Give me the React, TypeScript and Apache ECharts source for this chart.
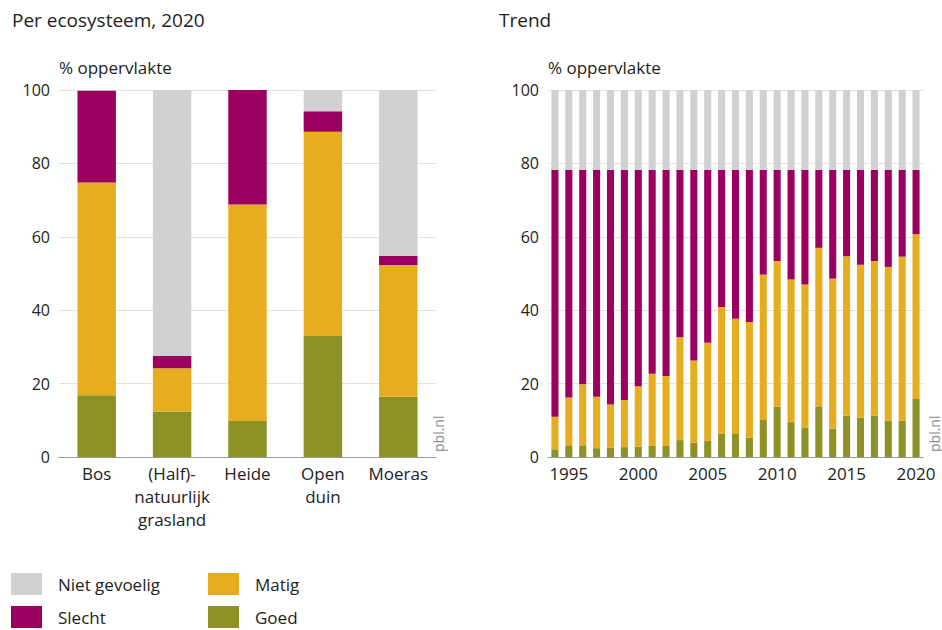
import React, { useEffect, useRef } from "react";
import * as echarts from "echarts";

const ecoCategories = ["Bos", "(Half)-\nnatuurlijk\ngrasland", "Heide", "Open\nduin", "Moeras"];
const ecoGoed = [16.8, 12.4, 9.8, 33.0, 16.4];
const ecoMatig = [58.0, 11.8, 59.0, 55.6, 35.9];
const ecoSlecht = [25.0, 3.3, 31.2, 5.6, 2.5];
const ecoNiet = [0, 72.5, 0, 5.8, 45.2];

const trendYears = [
  "1994", "1995", "1996", "1997", "1998", "1999", "2000", "2001", "2002", "2003",
  "2004", "2005", "2006", "2007", "2008", "2009", "2010", "2011", "2012", "2013",
  "2014", "2015", "2016", "2017", "2018", "2019", "2020",
];
const trendGoed = [2.1, 3.0, 3.2, 2.4, 2.5, 2.7, 2.8, 3.0, 3.0, 4.6, 3.9, 4.4, 6.3, 6.3, 5.3, 10.1, 13.7, 9.5, 8.0, 13.8, 7.7, 11.3, 10.7, 11.3, 9.9, 9.9, 15.8];
const trendMatig = [8.9, 13.2, 16.6, 14.0, 11.8, 12.8, 16.5, 19.7, 19.1, 28.0, 22.4, 26.7, 34.6, 31.4, 31.5, 39.6, 39.7, 38.9, 39.0, 43.2, 40.9, 43.4, 41.7, 42.1, 41.9, 44.7, 44.9];
const trendSlecht = [67.2, 62.0, 58.4, 61.8, 63.9, 62.7, 58.9, 55.5, 56.1, 45.6, 51.9, 47.1, 37.3, 40.5, 41.4, 28.5, 24.8, 29.8, 31.2, 21.2, 29.6, 23.5, 25.8, 24.8, 26.4, 23.6, 17.5];
const trendNiet = [21.8, 21.8, 21.8, 21.8, 21.8, 21.8, 21.8, 21.8, 21.8, 21.8, 21.8, 21.8, 21.8, 21.8, 21.8, 21.8, 21.8, 21.8, 21.8, 21.8, 21.8, 21.8, 21.8, 21.8, 21.8, 21.8, 21.8];
const trendLabelYears = ["1995", "2000", "2005", "2010", "2015", "2020"];

const COLORS = {
  niet: "#d0d1d0",
  slecht: "#9b0060",
  matig: "#e6ad20",
  goed: "#8e9126",
};

const FONT = "'Open Sans', 'Noto Sans', sans-serif";
const TEXT = "#222222";

export default function App() {
  const ref = useRef<HTMLDivElement>(null);
  useEffect(() => {
    document.body.style.margin = "0";
    if (!ref.current) return;
    const chart = echarts.init(ref.current, undefined, { renderer: "svg" });

    const yAxisCommon = {
      type: "value",
      min: 0,
      max: 100,
      interval: 20,
      name: "% oppervlakte",
      nameLocation: "end",
      nameGap: 14,
      nameTextStyle: { align: "left", color: TEXT, fontSize: 17, fontFamily: FONT },
      axisLine: { show: false },
      axisTick: { show: false },
      axisLabel: { color: TEXT, fontSize: 16, fontFamily: FONT, margin: 9 },
      splitLine: { lineStyle: { color: "#e2e2e2", width: 1 } },
    };

    const xAxisCommon = {
      type: "category",
      axisLine: { lineStyle: { color: "#9a9a9a", width: 1 } },
      axisTick: { show: false },
    };

    const mk = (name: string, color: string, data: number[], idx: number) => ({
      name,
      type: "bar",
      stack: idx === 0 ? "eco" : "trend",
      xAxisIndex: idx,
      yAxisIndex: idx,
      data,
      barWidth: "51%",
      itemStyle: { color },
      emphasis: { disabled: true },
    });

    const legendCommon = {
      orient: "vertical",
      top: 573,
      padding: 0,
      itemWidth: 31,
      itemHeight: 22,
      itemGap: 11,
      icon: "rect",
      selectedMode: false,
      textStyle: { color: TEXT, fontSize: 17, fontFamily: FONT, padding: [0, 0, 0, 11] },
    };

    chart.setOption({
      animation: false,
      textStyle: { fontFamily: FONT },
      title: [
        { text: "Per ecosysteem, 2020", left: 12, top: 10, padding: 0, textStyle: { color: TEXT, fontSize: 19, fontWeight: "normal", fontFamily: FONT } },
        { text: "Trend", left: 499, top: 10, padding: 0, textStyle: { color: TEXT, fontSize: 19, fontWeight: "normal", fontFamily: FONT } },
      ],
      legend: [
        { ...legendCommon, left: 11, data: ["Niet gevoelig", "Slecht"] },
        { ...legendCommon, left: 208, data: ["Matig", "Goed"] },
      ],
      grid: [
        { left: 59, right: 506, top: 90, bottom: 173 },
        { left: 548, right: 19, top: 90, bottom: 173 },
      ],
      xAxis: [
        {
          ...xAxisCommon,
          gridIndex: 0,
          data: ecoCategories,
          axisLabel: { color: TEXT, fontSize: 17, fontFamily: FONT, margin: 5, lineHeight: 23, interval: 0 },
        },
        {
          ...xAxisCommon,
          gridIndex: 1,
          data: trendYears,
          axisLabel: {
            color: TEXT,
            fontSize: 17,
            fontFamily: FONT,
            margin: 8,
            interval: (_i: number, v: string) => trendLabelYears.indexOf(v) >= 0,
          },
        },
      ],
      yAxis: [
        { ...yAxisCommon, gridIndex: 0 },
        { ...yAxisCommon, gridIndex: 1 },
      ],
      series: [
        mk("Goed", COLORS.goed, ecoGoed, 0),
        mk("Matig", COLORS.matig, ecoMatig, 0),
        mk("Slecht", COLORS.slecht, ecoSlecht, 0),
        mk("Niet gevoelig", COLORS.niet, ecoNiet, 0),
        mk("Goed", COLORS.goed, trendGoed, 1),
        mk("Matig", COLORS.matig, trendMatig, 1),
        mk("Slecht", COLORS.slecht, trendSlecht, 1),
        mk("Niet gevoelig", COLORS.niet, trendNiet, 1),
      ],
      graphic: [
        {
          type: "text",
          x: 431,
          y: 452,
          rotation: Math.PI / 2,
          style: { text: "pbl.nl", fill: "#8a8a8a", fontSize: 14, fontFamily: FONT, textAlign: "left", textVerticalAlign: "top" },
        },
        {
          type: "text",
          x: 927,
          y: 452,
          rotation: Math.PI / 2,
          style: { text: "pbl.nl", fill: "#8a8a8a", fontSize: 14, fontFamily: FONT, textAlign: "left", textVerticalAlign: "top" },
        },
      ],
    });

    return () => chart.dispose();
  }, []);
  return <div ref={ref} style={{ width: 942, height: 630 }} />;
}
